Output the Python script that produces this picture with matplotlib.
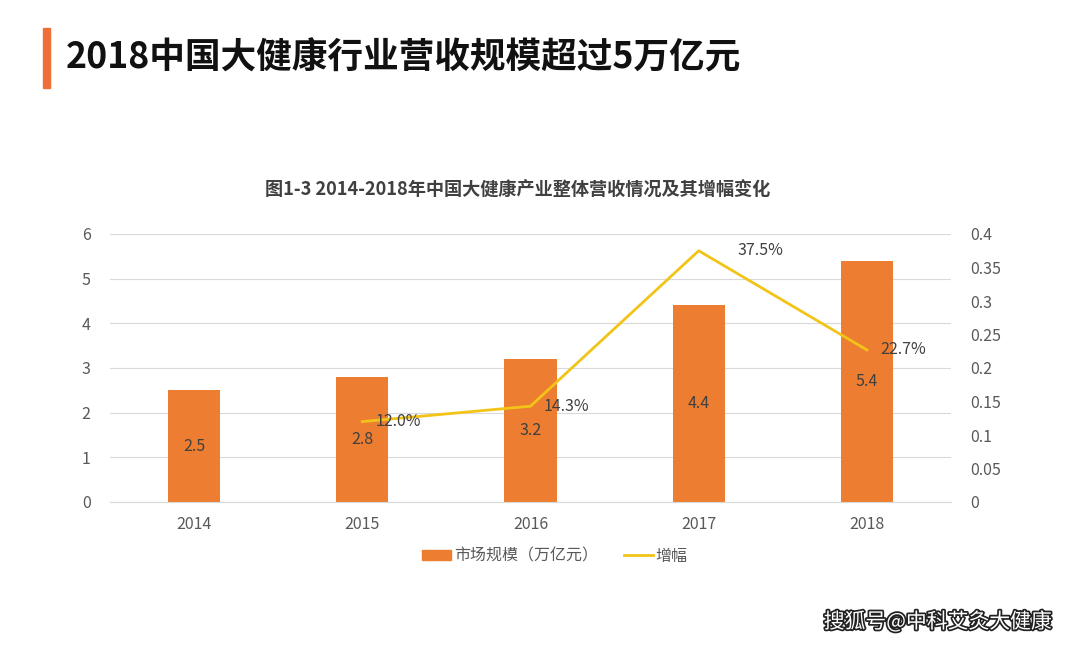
import matplotlib
matplotlib.use('Agg')
import matplotlib.pyplot as plt
import matplotlib.patches as mpatches
import matplotlib.patheffects as pe
from matplotlib.lines import Line2D

plt.rcParams['font.family'] = ['Noto Sans CJK SC', 'DejaVu Sans']

years = ['2014', '2015', '2016', '2017', '2018']
market = [2.5, 2.8, 3.2, 4.4, 5.4]
growth_years = ['2015', '2016', '2017', '2018']
growth = [0.120, 0.143, 0.375, 0.227]
left_ticks = [0, 1, 2, 3, 4, 5, 6]
right_ticks = [0, 0.05, 0.1, 0.15, 0.2, 0.25, 0.3, 0.35, 0.4]
right_labels = ['0', '0.05', '0.1', '0.15', '0.2', '0.25', '0.3', '0.35', '0.4']

bar_c = '#ED7D31'
line_c = '#F2C418'
txt_c = '#595959'

fig = plt.figure(figsize=(10.8, 6.45), dpi=100)
fig.patch.set_facecolor('white')

# page header
fig.patches.append(mpatches.Rectangle((43 / 1080, 1 - 88 / 645), 7 / 1080, 60 / 645,
                                      transform=fig.transFigure, color='#EE6F3A'))
fig.text(66 / 1080, 1 - 58 / 645, '2018中国大健康行业营收规模超过5万亿元',
         fontsize=25.7, fontweight='bold', color='#111111', va='center', ha='left')

ax = fig.add_axes([110 / 1080, 1 - 502 / 645, 841 / 1080, 268 / 645])
x = list(range(len(years)))
ax.bar(x, market, width=0.31, color=bar_c, zorder=2)
for xi, v in zip(x, market):
    ax.text(xi, v / 2, f'{v:.1f}', ha='center', va='center', fontsize=11.5, color='#404040', zorder=4)

ax.set_xlim(-0.5, len(years) - 0.5)
ax.set_ylim(0, 6)
ax.set_yticks(left_ticks)
ax.set_xticks(x)
ax.set_xticklabels(years)
ax.grid(axis='y', color='#D9D9D9', linewidth=0.8, zorder=0)
for s in ['top', 'right', 'left']:
    ax.spines[s].set_visible(False)
ax.spines['bottom'].set_color('#D9D9D9')
ax.tick_params(axis='both', length=0, labelsize=11.5, colors=txt_c)
ax.tick_params(axis='x', pad=10)
ax.tick_params(axis='y', pad=14)

ax2 = ax.twinx()
gx = [years.index(y) for y in growth_years]
ax2.plot(gx, growth, color=line_c, linewidth=2, zorder=3)
label_dx = [0.08, 0.08, 0.23, 0.08]
for xi, g, dx in zip(gx, growth, label_dx):
    ax2.text(xi + dx, g, f'{g * 100:.1f}%', ha='left', va='center', fontsize=11.5,
             color='#404040', zorder=4)
ax2.set_ylim(0, 0.4)
ax2.set_yticks(right_ticks)
ax2.set_yticklabels(right_labels)
for s in ['top', 'right', 'left', 'bottom']:
    ax2.spines[s].set_visible(False)
ax2.tick_params(axis='y', length=0, labelsize=11.5, colors=txt_c, pad=14)

fig.text(518 / 1080, 1 - 190 / 645, '图1-3 2014-2018年中国大健康产业整体营收情况及其增幅变化',
         fontsize=13.1, fontweight='bold', color='#404040', ha='center', va='center')

handles = [mpatches.Patch(color=bar_c, label='市场规模（万亿元）'),
           Line2D([], [], color=line_c, linewidth=2, label='增幅')]
fig.legend(handles=handles, loc='center', bbox_to_anchor=(555 / 1080, 1 - 556 / 645),
           ncol=2, frameon=False, fontsize=11.5, labelcolor=txt_c, handlelength=1.8,
           handleheight=0.6, handletextpad=0.2, columnspacing=1.6)

fig.text(938 / 1080, 1 - 622 / 645, '搜狐号@中科艾灸大健康', fontsize=15, color='white',
         ha='center', va='center',
         path_effects=[pe.withStroke(linewidth=2.5, foreground='#222222')])

plt.savefig('out.png', dpi=100, facecolor='white')
